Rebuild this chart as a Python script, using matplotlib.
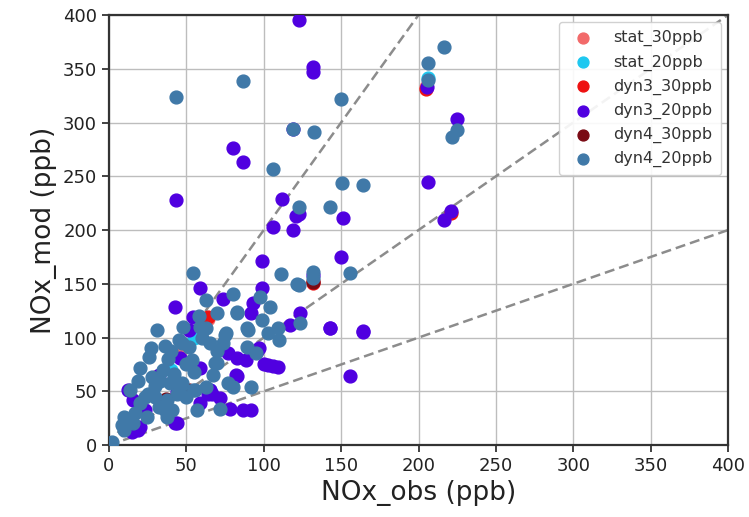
import numpy as np
import matplotlib.pyplot as plt

# NOx observed vs modelled (ppb) for each run
stat30_obs = [64, 132, 205, 30, 45]
stat30_mod = [117, 153, 333, 63, 85]
stat20_obs = [206, 65, 20, 40, 55]
stat20_mod = [341, 51, 39, 70, 100]
dyn3_30_obs = [64, 132, 205, 221]
dyn3_30_mod = [119, 151, 331, 216]
dyn4_30_obs = [132, 52, 37]
dyn4_30_mod = [152, 51, 43]

dyn3_20_obs = [122.8, 132, 132, 119, 80, 86.6, 43, 112, 121, 151, 106, 119,
               205.5, 225, 206, 221, 216.5, 150, 143, 164, 156, 123.4, 99, 73.7,
               99, 93, 92, 143, 164, 77, 82.7, 88.5, 97, 103, 109, 82.7, 65,
               42.6, 59, 54, 52, 46, 59, 106, 82, 95.6, 66.5, 71.7, 86.6, 92,
               78, 59, 44, 20, 15, 32, 12, 44, 64, 42.6, 19, 23, 15.5, 123,
               100, 132, 117]
dyn3_20_mod = [395, 352, 347, 294, 276, 263, 228, 229, 213, 211, 203, 200,
               333, 303, 245, 218, 209, 175, 109, 105, 64, 123, 171, 136,
               146, 132, 123, 109, 106, 85.6, 81, 79, 90, 74.4, 73, 64, 51,
               128, 146, 119, 107, 81, 72, 74, 65, 88, 48, 44, 32.6, 32.6,
               34, 39, 20.5, 17, 12, 65, 51, 49, 48, 20.5, 14, 32.6, 42, 215,
               75, 158, 112]

dyn4_20_obs = [86.6, 43, 150, 119, 132.5, 106, 150.6, 123, 143, 216.5, 206,
               206, 221.6, 225, 164, 132, 132, 156, 123, 111, 121.5, 80, 97.6,
               82.7, 70, 123.4, 90, 99, 109, 103, 110, 75, 73.7, 95, 68.5, 92,
               54, 62.7, 59, 31, 63, 82.7, 89, 75.6, 47, 52, 26, 53.6, 70, 67,
               20, 28, 35, 39.4, 46, 13.6, 20, 25, 37.5, 54, 50, 77, 71.7, 57,
               37.5, 24.5, 10, 8.4, 15.5, 2, 30, 32, 41, 80, 104, 89, 63, 44,
               19, 47, 55.6, 36, 17, 23, 10, 40, 45, 36, 60, 50, 42, 30, 55,
               65, 48, 38, 27, 58, 33, 70]
dyn4_20_mod = [339, 324, 322, 294, 291, 257, 244, 221, 221, 370, 355,
               339.5, 287, 293, 242, 161, 155, 160, 149, 159, 150, 141, 138,
               123, 123, 114, 107, 116, 109, 104, 98, 102, 95, 85.6, 76, 54,
               160, 135, 110, 107, 109, 124, 109, 104, 95, 91, 82, 79, 76, 65,
               72, 63, 70, 58, 54, 51, 39, 48, 42, 51, 45, 58, 33.5, 32.6,
               26, 26, 26, 18.6, 20.5, 3, 45, 35, 32.6, 54, 128, 91, 54, 48,
               60, 58, 51, 32.6, 30, 45, 14, 88, 98, 92, 100, 75, 66, 55, 68,
               95, 110, 80, 90, 120, 60, 88]

fig = plt.figure(figsize=(7.49, 5.17), dpi=100)
ax = fig.add_axes([0.1455, 0.139, 0.8265, 0.832])

sz = 85
ax.scatter(stat30_obs, stat30_mod, s=sz, color='#f26a6a', label='stat_30ppb', zorder=3)
ax.scatter(stat20_obs, stat20_mod, s=sz, color='#1ec8f0', label='stat_20ppb', zorder=3)
ax.scatter(dyn3_30_obs, dyn3_30_mod, s=sz, color='#ee1111', label='dyn3_30ppb', zorder=3)
ax.scatter(dyn3_20_obs, dyn3_20_mod, s=sz, color='#5000e0', label='dyn3_20ppb', zorder=3)
ax.scatter(dyn4_30_obs, dyn4_30_mod, s=sz, color='#7a0a14', label='dyn4_30ppb', zorder=3)
ax.scatter(dyn4_20_obs, dyn4_20_mod, s=sz, color='#4079a8', label='dyn4_20ppb', zorder=3)

# 2:1, 1:1 and 1:2 reference lines
xl = np.array([0, 400])
for f in [2, 1, 0.5]:
    ax.plot(xl, f * xl, '--', color='#8c8c8c', lw=1.8, dashes=(4, 2), zorder=2)

ax.set_xlim(0, 400)
ax.set_ylim(0, 400)
ax.set_xticks(range(0, 401, 50))
ax.set_yticks(range(0, 401, 50))
ax.grid(True, color='#bdbdbd', lw=1.0, zorder=0)
ax.set_axisbelow(True)
ax.tick_params(labelsize=13, length=5, width=1.2, colors='#222222')
for sp in ax.spines.values():
    sp.set_linewidth(1.6)
    sp.set_color('#333333')

ax.set_xlabel('NOx_obs (ppb)', fontsize=19, color='#222222')
ax.set_ylabel('NOx_mod (ppb)', fontsize=19, color='#222222')

leg = ax.legend(loc='upper right', fontsize=11.5, scatterpoints=1, markerscale=0.85,
                handletextpad=0.9, labelspacing=0.5, borderpad=0.5,
                borderaxespad=0.45, framealpha=0.9)
for t in leg.get_texts():
    t.set_color('#333333')

fig.savefig('out.png', dpi=100)
